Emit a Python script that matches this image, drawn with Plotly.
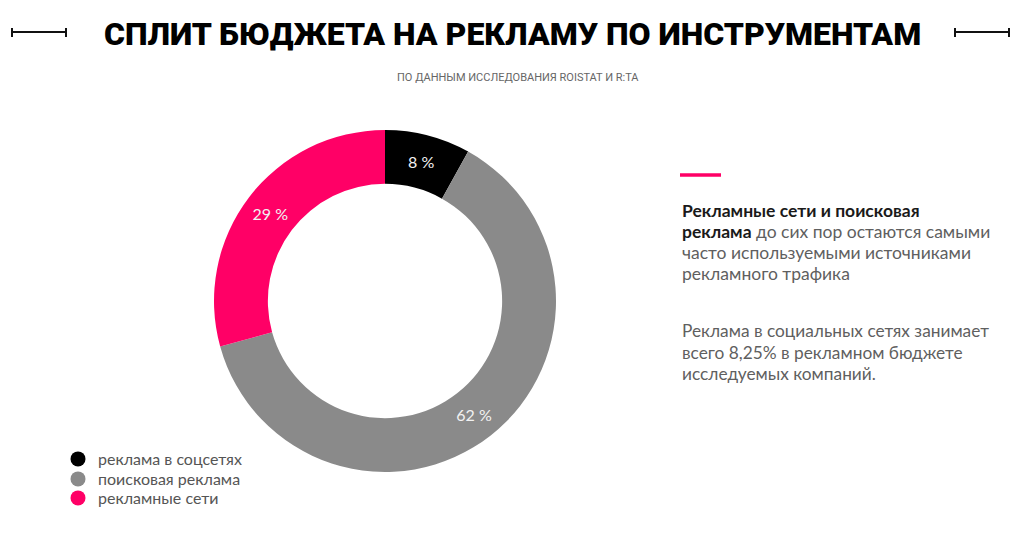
import plotly.graph_objects as go

categories = ["реклама в соцсетях", "поисковая реклама", "рекламные сети"]
values = [8, 62, 29]
slice_labels = ["8 %", "62 %", "29 %"]
colors = ["#000000", "#8a8a8a", "#ff0066"]

title_text = "СПЛИТ БЮДЖЕТА НА РЕКЛАМУ ПО ИНСТРУМЕНТАМ"
subtitle_text = "ПО ДАННЫМ ИССЛЕДОВАНИЯ ROISTAT И R:TA"
para1_lines = [
    "<b style='color:#1a1a1a'>Рекламные сети и поисковая</b>",
    "<b style='color:#1a1a1a'>реклама</b> до сих пор остаются самыми",
    "часто используемыми источниками",
    "рекламного трафика",
]
para2_lines = [
    "Реклама в социальных сетях занимает",
    "всего 8,25% в рекламном бюджете",
    "исследуемых компаний.",
]

W, H = 1023, 539

fig = go.Figure()
fig.add_trace(go.Pie(
    values=values, labels=categories, text=slice_labels,
    textinfo="text", textposition="inside", insidetextorientation="horizontal",
    textfont=dict(family="Lato", size=16, color="#f2f2f2"),
    marker=dict(colors=colors, line=dict(width=0)),
    hole=0.685, sort=False, direction="clockwise", rotation=0,
    domain=dict(x=[214 / W, 556 / W], y=[(H - 472) / H, (H - 130) / H]),
    showlegend=False, hoverinfo="label+percent",
))

legend_names = ["legend", "legend2", "legend3"]
legend_ys = [459, 479, 498]
for cat, col, lg in zip(categories, colors, legend_names):
    fig.add_trace(go.Scatter(
        x=[None], y=[None], mode="markers", name=cat, legend=lg,
        marker=dict(symbol="circle", size=15, color=col),
    ))

fig.update_layout(
    width=W, height=H, margin=dict(l=0, r=0, t=0, b=0),
    paper_bgcolor="white", plot_bgcolor="white",
    xaxis=dict(visible=False), yaxis=dict(visible=False),
)
for lg, ly in zip(legend_names, legend_ys):
    fig.update_layout({lg: dict(x=58 / W, y=(H - ly) / H, xanchor="left", yanchor="middle",
                                font=dict(family="Lato", size=16, color="#555555"),
                                bgcolor="rgba(0,0,0,0)", itemwidth=30)})

fig.add_annotation(x=512 / W, y=(H - 34) / H, xref="paper", yref="paper",
                   xanchor="center", yanchor="middle",
                   text=title_text, showarrow=False,
                   font=dict(family="Roboto", size=32, weight=900, color="#000"))
fig.add_annotation(x=518 / W, y=(H - 78) / H, xref="paper", yref="paper",
                   xanchor="center", yanchor="middle",
                   text=subtitle_text, showarrow=False,
                   font=dict(family="Roboto", size=11, color="#666666"))

for i, line in enumerate(para1_lines):
    fig.add_annotation(x=680 / W, y=(H - (210 + 21 * i)) / H, xref="paper", yref="paper",
                       xanchor="left", yanchor="middle", align="left",
                       text=line, showarrow=False,
                       font=dict(family="Lato", size=17.5, color="#5f5f5f"))
for i, line in enumerate(para2_lines):
    fig.add_annotation(x=680 / W, y=(H - (331 + 21 * i)) / H, xref="paper", yref="paper",
                       xanchor="left", yanchor="middle", align="left",
                       text=line, showarrow=False,
                       font=dict(family="Lato", size=17.3, color="#5f5f5f"))

# decorative elements
shapes = []
for x0, x1 in [(12, 66), (955, 1009)]:
    shapes.append(dict(type="line", xref="paper", yref="paper", x0=x0 / W, x1=x1 / W,
                       y0=(H - 32) / H, y1=(H - 32) / H, line=dict(color="#111", width=2)))
    for xx in (x0, x1):
        shapes.append(dict(type="line", xref="paper", yref="paper", x0=xx / W, x1=xx / W,
                           y0=(H - 28) / H, y1=(H - 37) / H, line=dict(color="#111", width=2)))
shapes.append(dict(type="line", xref="paper", yref="paper", x0=680 / W, x1=721 / W,
                   y0=(H - 175) / H, y1=(H - 175) / H, line=dict(color="#ff0066", width=3.5)))
fig.update_layout(shapes=shapes)

fig.write_html("out.html", config={"displayModeBar": False},
               post_script="document.body.style.margin='0';")
